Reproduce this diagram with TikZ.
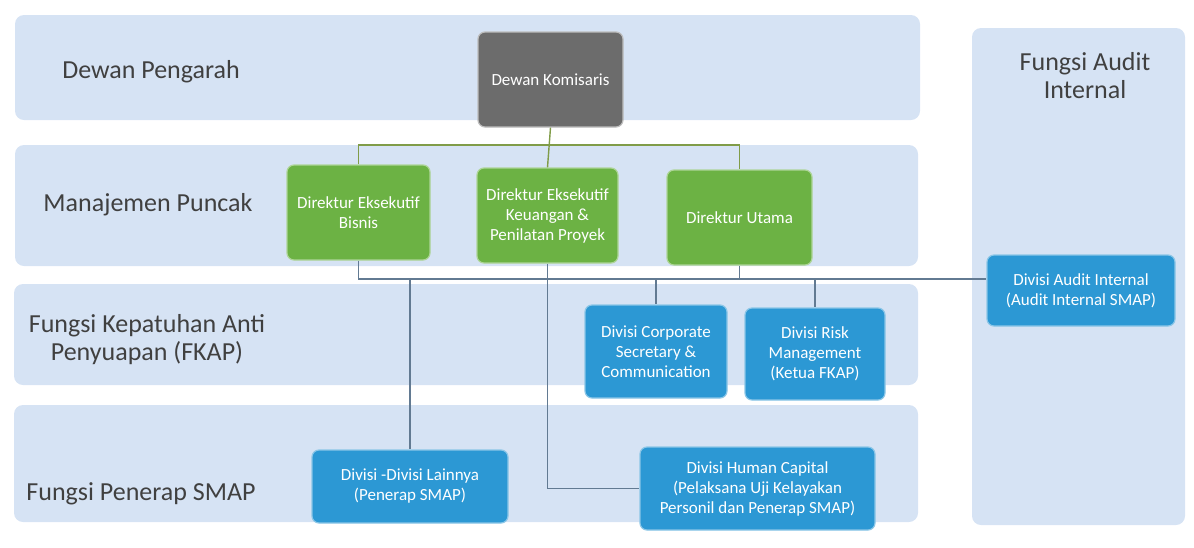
\documentclass[tikz,border=0pt]{standalone}
\usepackage{fontspec}
\setmainfont{Carlito}
\definecolor{bandc}{RGB}{214,227,244}
\definecolor{greenc}{RGB}{108,178,68}
\definecolor{bluec}{RGB}{44,152,212}
\definecolor{grayc}{RGB}{108,108,108}
\definecolor{labc}{RGB}{64,64,64}
\definecolor{glinec}{RGB}{128,156,72}
\definecolor{blinec}{RGB}{98,122,146}
\tikzset{
  band/.style={fill=bandc, rounded corners=9pt, inner sep=0pt},
  lbl/.style={font=\fontsize{26}{28}\selectfont, text=labc, align=center, inner sep=0pt},
  boxbase/.style={rounded corners=7pt, inner sep=0pt, text=white, align=center,
    font=\fontsize{17}{20}\selectfont, line width=1.2pt},
  gbox/.style={boxbase, fill=greenc, draw=greenc!55!white},
  bbox/.style={boxbase, fill=bluec, draw=bluec!55!white},
  kbox/.style={boxbase, fill=grayc, draw=grayc!45!white},
  gline/.style={draw=glinec, line width=1.4pt},
  bline/.style={draw=blinec, line width=1.3pt},
}
\begin{document}
\begin{tikzpicture}[x=1pt,y=-1pt]
\useasboundingbox (0,0) rectangle (1194,547);
% bands
\node[band, minimum width=905, minimum height=105] (b1) at (467.5,67.5) {};
\node[band, minimum width=903, minimum height=121] (b2) at (466.5,205.5) {};
\node[band, minimum width=904, minimum height=101] (b3) at (466,334.5) {};
\node[band, minimum width=904, minimum height=117] (b4) at (466,463.5) {};
\node[band, minimum width=213, minimum height=497] (b5) at (1078.5,276.5) {};
% labels
\node[lbl] (l1) at (151,72) {Dewan Pengarah};
\node[lbl] (l2) at (148,205) {Manajemen Puncak};
\node[lbl] (l3) at (147,340) {Fungsi Kepatuhan Anti\\Penyuapan (FKAP)};
\node[lbl] (l4) at (141,494) {Fungsi Penerap SMAP};
\node[lbl] (l5) at (1085,76) {Fungsi Audit\\Internal};
% boxes
\node[kbox, minimum width=145, minimum height=95] (dk) at (550.5,79.5) {Dewan Komisaris};
\node[gbox, minimum width=143, minimum height=95] (bis) at (358.5,212.5) {Direktur Eksekutif\\Bisnis};
\node[gbox, minimum width=141, minimum height=95] (keu) at (547.5,215.5) {Direktur Eksekutif\\Keuangan \&\\Penilatan Proyek};
\node[gbox, minimum width=145, minimum height=95] (uta) at (739.5,217.5) {Direktur Utama};
\node[bbox, minimum width=142, minimum height=93] (corp) at (656,351.5) {Divisi Corporate\\Secretary \&\\Communication};
\node[bbox, minimum width=140, minimum height=92] (risk) at (815,354) {Divisi Risk\\Management\\(Ketua FKAP)};
\node[bbox, minimum width=196, minimum height=73] (lain) at (410,486.5) {Divisi -Divisi Lainnya\\(Penerap SMAP)};
\node[bbox, minimum width=235, minimum height=83] (hc) at (757.5,488.5) {Divisi Human Capital\\(Pelaksana Uji Kelayakan\\Personil dan Penerap SMAP)};
\node[bbox, minimum width=188, minimum height=71] (aud) at (1081,290.5) {Divisi Audit Internal\\(Audit Internal SMAP)};
% green connectors
\coordinate (gbus) at (550,145);
\draw[gline] (dk.south) -- (keu.north);
\draw[gline] (bis.north) |- (gbus) -| (uta.north);
% blue connectors
\coordinate (bbus) at (550,279);
\draw[bline] (bis.south) |- (aud.west |- bbus);
\draw[bline] (uta.south) -- (uta.south |- bbus);
\draw[bline] (corp.north |- bbus) -- (corp.north);
\draw[bline] (risk.north |- bbus) -- (risk.north);
\draw[bline] (lain.north |- bbus) -- (lain.north);
\draw[bline] (keu.south) |- (hc.west);
\end{tikzpicture}
\end{document}
